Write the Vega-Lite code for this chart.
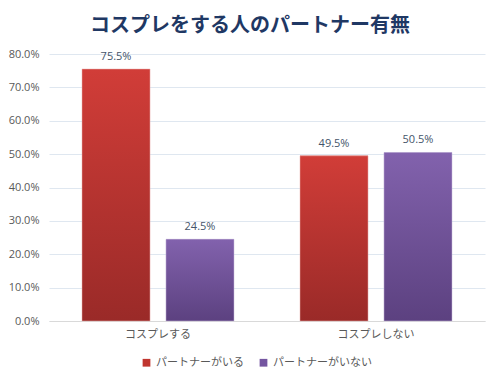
{
  "$schema": "https://vega.github.io/schema/vega-lite/v6.json",
  "autosize": {"type": "none"},
  "width": 436,
  "height": 267,
  "padding": {"left": 49, "top": 54, "right": 15, "bottom": 62},
  "background": "white",
  "config": {"view": {"stroke": null}},
  "title": {
    "text": "コスプレをする人のパートナー有無",
    "font": "Noto Sans CJK JP",
    "fontSize": 20,
    "fontWeight": "bold",
    "color": "#1f3864",
    "anchor": "middle",
    "dx": -17,
    "offset": 12
  },
  "data": {
    "values": [
      {"group": "コスプレする", "series": "パートナーがいる", "value": 0.755},
      {"group": "コスプレする", "series": "パートナーがいない", "value": 0.245},
      {"group": "コスプレしない", "series": "パートナーがいる", "value": 0.495},
      {"group": "コスプレしない", "series": "パートナーがいない", "value": 0.505}
    ]
  },
  "encoding": {
    "x": {
      "field": "group",
      "type": "nominal",
      "sort": ["コスプレする", "コスプレしない"],
      "scale": {"paddingInner": 0, "paddingOuter": 0},
      "axis": {
        "title": null,
        "labelAngle": 0,
        "labelFont": "Noto Sans CJK JP",
        "labelFontSize": 11,
        "labelColor": "#595959",
        "labelPadding": 7,
        "ticks": false,
        "domainColor": "#d9d9d9",
        "grid": false
      }
    },
    "xOffset": {
      "field": "series",
      "type": "nominal",
      "sort": ["パートナーがいる", "パートナーがいない"],
      "scale": {"paddingInner": 0.19, "paddingOuter": 0.393}
    },
    "y": {
      "field": "value",
      "type": "quantitative",
      "scale": {"domain": [0, 0.8]},
      "axis": {
        "title": null,
        "format": ".1%",
        "values": [0, 0.1, 0.2, 0.3, 0.4, 0.5, 0.6, 0.7, 0.8],
        "labelFont": "Open Sans",
        "labelFontSize": 11,
        "labelColor": "#595959",
        "labelPadding": 10,
        "ticks": false,
        "domain": false,
        "gridColor": "#dfe7f0",
        "gridWidth": 1
      }
    }
  },
  "layer": [
    {
      "mark": {"type": "bar"},
      "encoding": {
        "color": {
          "field": "series",
          "type": "nominal",
          "sort": ["パートナーがいる", "パートナーがいない"],
          "scale": {"domain": ["パートナーがいる", "パートナーがいない"], "range": ["#c0352f", "#7455a0"]},
          "legend": {
            "title": null,
            "orient": "none",
            "legendX": 92,
            "legendY": 303,
            "direction": "horizontal",
            "symbolType": "square",
            "symbolSize": 60,
            "symbolStrokeWidth": 0,
            "labelFont": "Noto Sans CJK JP",
            "labelFontSize": 11,
            "labelColor": "#595959",
            "columnPadding": 14
          }
        }
      }
    },
    {
      "transform": [{"filter": "datum.series === 'パートナーがいる'"}],
      "mark": {
        "type": "bar",
        "fill": {
          "gradient": "linear", "x1": 0, "y1": 0, "x2": 0, "y2": 1,
          "stops": [{"offset": 0, "color": "#d13d38"}, {"offset": 1, "color": "#9a2a28"}]
        },
        "stroke": "#e8b0ae",
        "strokeWidth": 0.5
      }
    },
    {
      "transform": [{"filter": "datum.series === 'パートナーがいない'"}],
      "mark": {
        "type": "bar",
        "fill": {
          "gradient": "linear", "x1": 0, "y1": 0, "x2": 0, "y2": 1,
          "stops": [{"offset": 0, "color": "#8262ad"}, {"offset": 1, "color": "#5c4180"}]
        },
        "stroke": "#c9bbdd",
        "strokeWidth": 0.5
      }
    },
    {
      "mark": {"type": "text", "dy": -12, "font": "Open Sans", "fontSize": 11, "color": "#44546a"},
      "encoding": {
        "text": {"field": "value", "type": "quantitative", "format": ".1%"}
      }
    }
  ]
}
